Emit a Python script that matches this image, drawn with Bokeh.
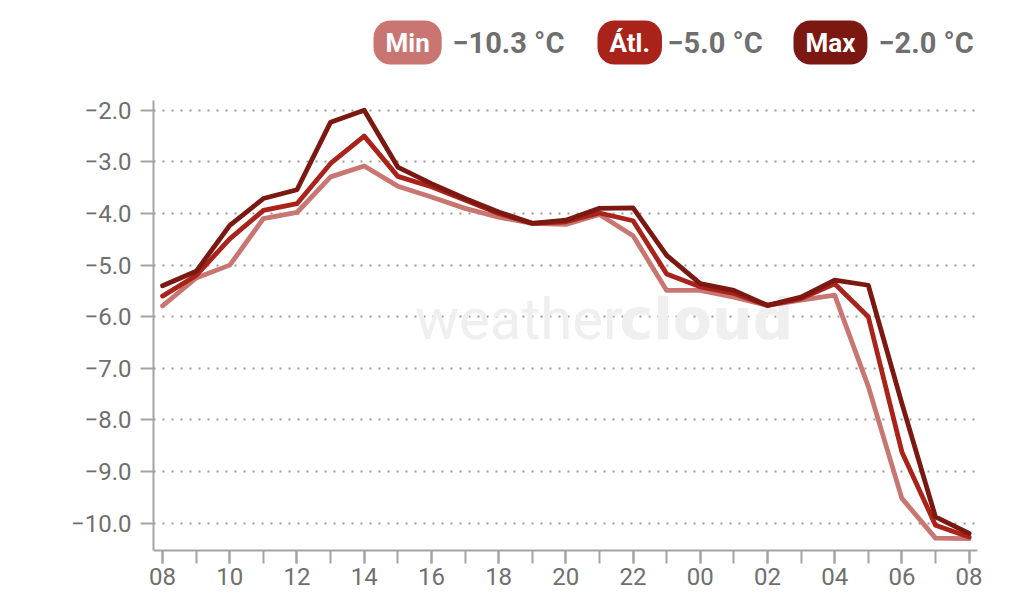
from bokeh.plotting import figure
from bokeh.models import FixedTicker, Label, ColumnDataSource
from bokeh.layouts import column
from bokeh.embed import file_html
from bokeh.resources import INLINE

# ---- data ----
hours = list(range(25))  # hours since 08:00
hour_tick_positions = list(range(0, 25, 2))
hour_tick_labels = ["08", "10", "12", "14", "16", "18", "20", "22", "00", "02", "04", "06", "08"]

temp_max = [-5.40, -5.12, -4.23, -3.71, -3.54, -2.23, -2.00, -3.10, -3.42, -3.71, -3.97, -4.19, -4.13,
            -3.90, -3.89, -4.81, -5.36, -5.49, -5.78, -5.62, -5.29, -5.39, -7.68, -9.88, -10.20]
temp_avg = [-5.60, -5.20, -4.49, -3.94, -3.81, -3.03, -2.50, -3.28, -3.48, -3.74, -4.00, -4.19, -4.16,
            -3.99, -4.14, -5.17, -5.42, -5.55, -5.78, -5.65, -5.36, -6.00, -8.62, -10.04, -10.27]
temp_min = [-5.79, -5.25, -5.00, -4.10, -3.98, -3.29, -3.08, -3.47, -3.68, -3.90, -4.07, -4.19, -4.21,
            -4.02, -4.43, -5.49, -5.49, -5.62, -5.78, -5.68, -5.58, -7.35, -9.52, -10.29, -10.30]

y_ticks = [-2.0, -3.0, -4.0, -5.0, -6.0, -7.0, -8.0, -9.0, -10.0]

legend_names = ["Min", "Átl.", "Max"]
legend_values = [-10.3, -5.0, -2.0]
colors = ["#c97572", "#a9231b", "#7b1811"]

FONT = "Roboto"
GRAY_TXT = "#6f6f6f"
AXIS_GRAY = "#a3a3a3"
LEG_H = 80

# ---- legend strip ----
leg = figure(width=1008, height=LEG_H, output_backend="svg", toolbar_location=None,
             x_range=(0, 1008), y_range=(0, LEG_H), min_border=0)
leg.frame_align = False
leg.axis.visible = False
leg.grid.visible = False
leg.outline_line_color = None
badge_x = [373, 597, 793]
value_x = [452, 667, 878]
for name, val, c, bx, vx in zip(legend_names, legend_values, colors, badge_x, value_x):
    leg.add_layout(Label(x=bx, y=LEG_H - 42, x_units="screen", y_units="screen", text=name,
                         text_font=FONT, text_font_style="bold", text_font_size="26px",
                         text_color="white", text_align="left", text_baseline="middle",
                         background_fill_color=c, border_radius=17, padding=(12, 7)))
    leg.add_layout(Label(x=vx, y=LEG_H - 42, x_units="screen", y_units="screen",
                         text=f"{val:.1f} °C".replace("-", "\u2212"),
                         text_font=FONT, text_font_style="bold", text_font_size="29px",
                         text_color=GRAY_TXT, text_align="left", text_baseline="middle"))

# ---- main chart ----
p = figure(width=1008, height=526, output_backend="svg", toolbar_location=None,
           x_range=(-0.27, 24.25), y_range=(-10.53, -1.81),
           min_border_left=153, min_border_right=31, min_border_top=100 - LEG_H, min_border_bottom=56)
p.outline_line_color = None

# watermark
p.add_layout(Label(x=262, y=232, x_units="screen", y_units="screen", text="weather",
                   text_font=FONT, text_font_size="58px", text_color="#efefef",
                   text_baseline="alphabetic", level="underlay"))
p.add_layout(Label(x=466, y=232, x_units="screen", y_units="screen", text="cloud",
                   text_font="DejaVu Sans", text_font_style="bold", text_font_size="57px",
                   text_color="#efefef", text_baseline="alphabetic", level="underlay"))

src = ColumnDataSource(dict(h=hours, mn=temp_min, av=temp_avg, mx=temp_max))
for col, c in zip(["mn", "av", "mx"], colors):
    p.line("h", col, source=src, line_color=c, line_width=4.8, line_join="round", line_cap="round")

for ax in (p.xaxis[0], p.yaxis[0]):
    ax.axis_line_color = AXIS_GRAY
    ax.axis_line_width = 2
    ax.major_tick_line_color = AXIS_GRAY
    ax.major_tick_line_width = 2
    ax.major_tick_in = 0
    ax.major_tick_out = 13
    ax.major_label_text_font = FONT
    ax.major_label_text_font_size = "24px"
    ax.major_label_text_color = GRAY_TXT

p.xaxis.ticker = FixedTicker(ticks=hour_tick_positions, minor_ticks=hours)
p.xaxis.major_label_overrides = {t: l for t, l in zip(hour_tick_positions, hour_tick_labels)}
p.xaxis.minor_tick_line_color = AXIS_GRAY
p.xaxis.minor_tick_line_width = 2
p.xaxis.minor_tick_in = 0
p.xaxis.minor_tick_out = 13
p.xaxis.major_label_standoff = 4

p.yaxis.ticker = FixedTicker(ticks=y_ticks)
p.yaxis.major_label_overrides = {t: f"{t:.1f}".replace("-", "\u2212") for t in y_ticks}
p.yaxis.minor_tick_line_color = None
p.yaxis.major_label_standoff = 9

p.xgrid.grid_line_color = None
p.ygrid.grid_line_color = "#9a9a9a"
p.ygrid.grid_line_width = 2
p.ygrid.grid_line_dash = "2 7"

layout = column(leg, p, spacing=0)
open("out.html", "w").write(file_html(layout, INLINE))
